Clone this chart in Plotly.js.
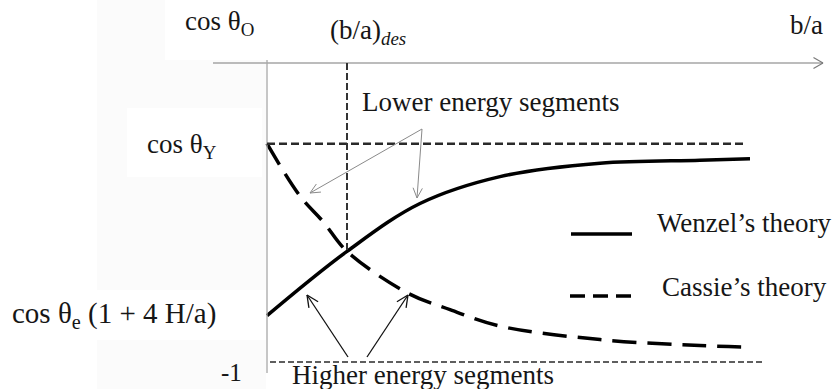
<!DOCTYPE html>
<html>
<head>
<meta charset="utf-8">
<script src="https://cdn.plot.ly/plotly-3.0.1.min.js"></script>
<style>
  html, body { margin: 0; padding: 0; background: #fff; }
  #chart { width: 832px; height: 389px; }
</style>
</head>
<body>
<div id="chart"></div>
<script>
// Contact-angle curves against the spacing ratio b/a
const wenzelX = [0, 1.6, 3.06, 4.66, 6.66, 8.66, 9.66];
const wenzelY = [-0.69, -0.26, 0.06, 0.24, 0.33, 0.35, 0.36];
const cassieX = [0, 0.66, 1.12, 1.6, 2.82, 3.66, 4.66, 6.66, 8.66, 9.62];
const cassieY = [0.46, 0.11, -0.06, -0.26, -0.54, -0.65, -0.76, -0.85, -0.89, -0.90];

// Reference levels
const cosThetaO = 1.0;     // the b/a axis
const cosThetaY = 0.46;
const lowerBound = -1;
const designRatio = 1.6;   // (b/a)des, where the two curves cross
const crossingY = -0.26;

// Screen mapping used for the decorations (labels, arrows)
const W = 832, H = 389;
const X0 = 267, XS = 50, Y1 = 63, YS = 149.5;
const dx = p => (p - X0) / XS;
const dy = p => cosThetaO - (p - Y1) / YS;

const FONT = '"Liberation Serif", "Times New Roman", serif';
const INK = '#161616';

const shapes = [];
const annotations = [];

function seg(x0, y0, x1, y1, color, width, dash) {
  shapes.push({
    type: 'line', xref: 'x', yref: 'y', x0, y0, x1, y1,
    line: { color, width, dash: dash || 'solid' }
  });
}

// Flat panel behind the left-hand labels
function panel(l, t, r, b, fill) {
  shapes.push({
    type: 'rect', xref: 'x', yref: 'y', layer: 'below',
    x0: dx(l), x1: dx(r), y0: dy(b), y1: dy(t),
    fillcolor: fill, line: { width: 0 }
  });
}

// Arrow in screen pixels with an open V head
function arrow(tx, ty, hx, hy, color, width, len, ang) {
  seg(dx(tx), dy(ty), dx(hx), dy(hy), color, width);
  const vx = tx - hx, vy = ty - hy;
  const n = Math.hypot(vx, vy);
  const ux = vx / n, uy = vy / n;
  const a = ang * Math.PI / 180;
  [a, -a].forEach(t => {
    const rx = ux * Math.cos(t) - uy * Math.sin(t);
    const ry = ux * Math.sin(t) + uy * Math.cos(t);
    seg(dx(hx), dy(hy), dx(hx + rx * len), dy(hy + ry * len), color, width);
  });
}

function label(text, left, cy, size, color) {
  annotations.push({
    xref: 'x', yref: 'y', x: dx(left), y: dy(cy),
    xanchor: 'left', yanchor: 'middle', showarrow: false,
    text, font: { family: FONT, size, color: color || INK }
  });
}

// Label panels
panel(97, 0, 266, 389, '#fbfbfb');
panel(165, 0, 300, 60, '#ffffff');
panel(127, 108, 262, 177, '#ffffff');
panel(0, 290, 266, 340, '#ffffff');

// b/a axis with arrow, and the vertical axis
arrow(213, 63, 823, 63, '#7a7a7a', 1.2, 11, 30);
seg(0, dy(60), 0, dy(373), '#a8a8a8', 1.3);

// Reference levels
seg(0, cosThetaY, dx(746), cosThetaY, '#2a2a2a', 2.4, '8px,4px');
seg(dx(270), lowerBound, dx(762), lowerBound, '#2a2a2a', 1.5, '6px,3px');
seg(designRatio, cosThetaO, designRatio, crossingY, '#333', 2, '7px,3px');

// Arrows pointing at the curve segments
arrow(422, 129, 310, 193, '#8a8a8a', 1, 11, 25);
arrow(422, 129, 417, 198, '#8a8a8a', 1, 11, 25);
arrow(348, 357, 307, 295, '#111', 1.3, 13, 25);
arrow(367, 357, 408, 295, '#111', 1.3, 13, 25);

// Legend samples
seg(dx(571), dy(234), dx(632), dy(234), '#000', 3.5);
seg(dx(570), dy(296), dx(631), dy(296), '#000', 3.5, '15px,8px');

// Text
label('cos θ<sub>O</sub>', 183, 23, 27);
label('(b/a)<sub><i>des</i></sub>', 328, 32, 27);
label('b/a', 788, 25, 27);
label('cos θ<sub>Y</sub>', 145, 146, 27);
label('cos θ<sub>e</sub> (1 + 4 H/a)', 10, 315, 29);
label('-1', 219, 372, 25);
label('Lower energy segments', 360, 102, 27);
label('Higher energy segments', 290, 375, 27);
label('Wenzel’s theory', 655, 223, 27);
label('Cassie’s theory', 660, 287, 27);

const traces = [
  {
    name: 'Wenzel’s theory', x: wenzelX, y: wenzelY, mode: 'lines',
    line: { color: '#000', width: 3.5, shape: 'spline', smoothing: 1 },
    hoverinfo: 'skip'
  },
  {
    name: 'Cassie’s theory', x: cassieX, y: cassieY, mode: 'lines',
    line: { color: '#000', width: 3.5, dash: '24px,11px', shape: 'spline', smoothing: 1 },
    hoverinfo: 'skip'
  }
];

const layout = {
  width: W, height: H,
  margin: { l: 0, r: 0, t: 0, b: 0, pad: 0 },
  paper_bgcolor: '#fff', plot_bgcolor: 'rgba(0,0,0,0)',
  showlegend: false,
  xaxis: { range: [dx(0), dx(W)], visible: false, fixedrange: true },
  yaxis: { range: [dy(H), dy(0)], visible: false, fixedrange: true },
  shapes, annotations
};

Plotly.newPlot('chart', traces, layout, { staticPlot: true, displayModeBar: false });
</script>
</body>
</html>
